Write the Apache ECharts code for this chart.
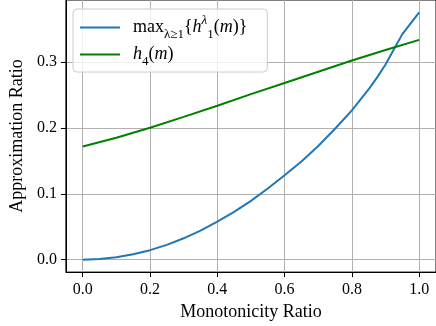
<!DOCTYPE html>
<html>
<head>
<meta charset="utf-8">
<script src="https://cdn.jsdelivr.net/npm/echarts@6/dist/echarts.min.js"></script>
<style>
html,body{margin:0;padding:0;background:#fff;}
#chart{width:436px;height:326px;}
</style>
</head>
<body>
<div id="chart"></div>
<script>
// max over lambda of h1, sampled along the monotonicity ratio
var mBlue = [0, 0.05, 0.1, 0.15, 0.2, 0.25, 0.3, 0.35, 0.4, 0.45, 0.5, 0.55, 0.6, 0.65, 0.7, 0.75, 0.8, 0.85, 0.875, 0.9, 0.925, 0.95, 1.0];
var maxH1 = [0, 0.001, 0.0037, 0.0082, 0.0145, 0.0225, 0.0325, 0.044, 0.0578, 0.0725, 0.0893, 0.108, 0.128, 0.149, 0.1725, 0.1985, 0.2265, 0.2585, 0.2765, 0.296, 0.319, 0.342, 0.375];
// h4
var mGreen = [0, 0.1, 0.2, 0.3, 0.4, 0.5, 0.6, 0.7, 0.8, 0.9, 1.0];
var h4 = [0.1716, 0.185, 0.2, 0.2165, 0.2335, 0.251, 0.268, 0.285, 0.302, 0.318, 0.3333];
var xTicks = [0, 0.2, 0.4, 0.6, 0.8, 1.0];
var yTicks = [0, 0.1, 0.2, 0.3];

drawChart();
function drawChart(){
	var myChart = echarts.init(document.getElementById('chart'));
	var font = 'Liberation Serif';
	var rich = {
		n: {fontFamily: font, fontSize: 18, color: '#000', lineHeight: 27, verticalAlign: 'middle'},
		i: {fontFamily: font, fontSize: 18, fontStyle: 'italic', color: '#000', lineHeight: 27, verticalAlign: 'middle'},
		sb: {fontFamily: font, fontSize: 13, color: '#000', lineHeight: 18, verticalAlign: 'bottom'},
		sp: {fontFamily: font, fontSize: 13, fontStyle: 'italic', color: '#000', lineHeight: 18, verticalAlign: 'top'}
	};
	var names = ['maxH1', 'h4'];
	var labels = {
		maxH1: '{n|max}{sb|λ≥1}{n|{}{i|h}{sp|λ}{sb|1}{n|(}{i|m}{n|)}}',
		h4: '{i|h}{sb|4}{n|(}{i|m}{n|)}'
	};
	var option = {
		animation: false,
		grid: {
			show: true,
			borderColor: '#000',
			borderWidth: 1,
			left: 64,
			top: 0,
			right: -8,
			bottom: 51,
			containLabel: false
		},
		legend: {
			left: 73,
			top: 9,
			orient: 'vertical',
			icon: 'rect',
			itemWidth: 40,
			itemHeight: 2,
			itemGap: 0,
			padding: [5, 20, 4, 7],
			backgroundColor: 'rgba(255,255,255,0.8)',
			borderColor: '#cccccc',
			borderWidth: 1,
			borderRadius: 4,
			data: names,
			formatter: function(name){ return labels[name]; },
			textStyle: {rich: rich, fontFamily: font, fontSize: 18, color: '#000', lineHeight: 27, padding: [0, 0, 0, 8]}
		},
		xAxis: {
			type: 'value',
			min: -0.05,
			max: 1.05,
			name: 'Monotonicity Ratio',
			nameLocation: 'middle',
			nameGap: 29,
			nameTextStyle: {fontFamily: font, fontSize: 18, color: '#000'},
			axisLine: {onZero: false, lineStyle: {color: '#000', width: 1}},
			axisTick: {show: true, length: 5, customValues: xTicks, lineStyle: {color: '#000'}},
			axisLabel: {customValues: xTicks, fontFamily: font, fontSize: 16, color: '#000', margin: 10,
				formatter: function(v){ return v.toFixed(1); }},
			splitLine: {show: true, lineStyle: {color: '#b0b0b0', width: 1}}
		},
		yAxis: {
			type: 'value',
			min: -0.01875,
			max: 0.39375,
			name: 'Approximation Ratio',
			nameLocation: 'middle',
			nameGap: 38,
			nameTextStyle: {fontFamily: font, fontSize: 18, color: '#000'},
			axisLine: {show: true, onZero: false, lineStyle: {color: '#000', width: 1}},
			axisTick: {show: true, length: 5, customValues: yTicks, lineStyle: {color: '#000'}},
			axisLabel: {customValues: yTicks, fontFamily: font, fontSize: 16, color: '#000', margin: 9,
				formatter: function(v){ return v.toFixed(1); }},
			splitLine: {show: true, lineStyle: {color: '#b0b0b0', width: 1}}
		},
		series: [
			{
				name: 'maxH1',
				type: 'line',
				showSymbol: false,
				lineStyle: {color: '#1f77b4', width: 2},
				itemStyle: {color: '#1f77b4'},
				data: mBlue.map(function(m, k){ return [m, maxH1[k]]; })
			},
			{
				name: 'h4',
				type: 'line',
				showSymbol: false,
				lineStyle: {color: '#008000', width: 2},
				itemStyle: {color: '#008000'},
				data: mGreen.map(function(m, k){ return [m, h4[k]]; })
			}
		]
	};
	myChart.setOption(option);
}
</script>
</body>
</html>
